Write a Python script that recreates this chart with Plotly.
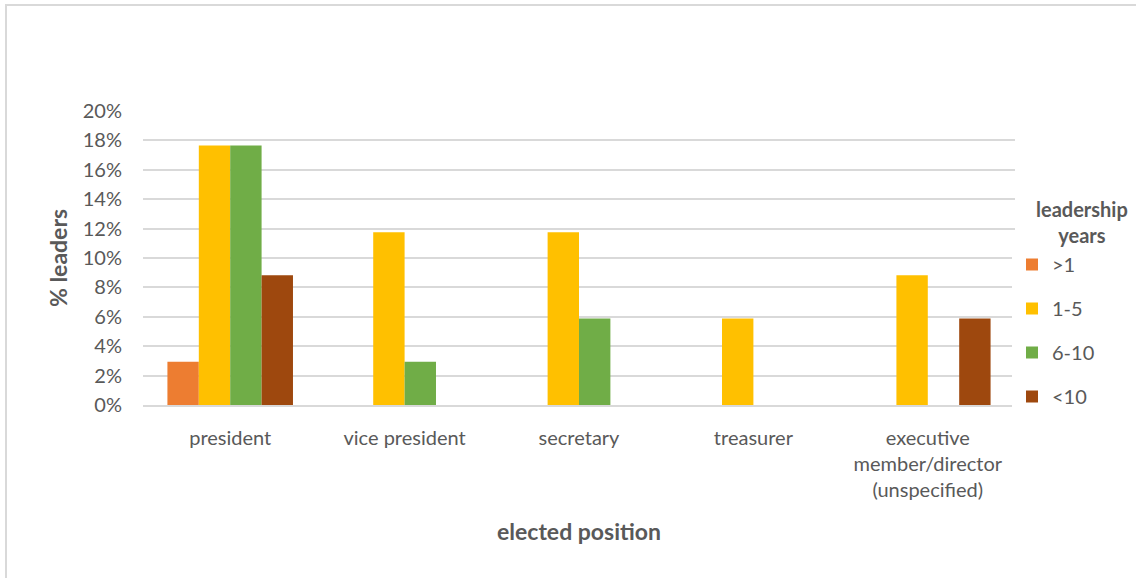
import plotly.graph_objects as go

categories = ["president", "vice president", "secretary", "treasurer",
              "executive<br>member/director<br>(unspecified)"]
series_names = [">1", "1-5", "6-10", "<10"]
v_gt1 = [0.0294, None, None, None, None]
v_1_5 = [0.1765, 0.1176, 0.1176, 0.0588, 0.0882]
v_6_10 = [0.1765, 0.0294, 0.0588, None, None]
v_lt10 = [0.0882, None, None, None, 0.0588]
colors = ["#ED7D31", "#FFC000", "#70AD47", "#9E480E"]
y_ticks = [0, 0.02, 0.04, 0.06, 0.08, 0.10, 0.12, 0.14, 0.16, 0.18, 0.20]

W, H = 1136, 578
L, R, T, B = 143, 121, 111, 173
pw, ph = W - L - R, H - T - B

FONT = "Lato"
GRAY = "#595959"

fig = go.Figure()
for i, (name, vals) in enumerate(zip(series_names, [v_gt1, v_1_5, v_6_10, v_lt10])):
    fig.add_trace(go.Bar(
        x=categories, y=vals, name=name, marker_color=colors[i],
        marker_line_width=0, legendgroup=f"g{i}",
    ))

def px_to_paper_x(px):
    return (px - L) / pw

def px_to_paper_y(py):
    return (H - B - py) / ph

fig.add_shape(type="rect", xref="paper", yref="paper",
              x0=px_to_paper_x(6), x1=px_to_paper_x(1145),
              y0=px_to_paper_y(590), y1=px_to_paper_y(5),
              line=dict(color="#D9D9D9", width=2), fillcolor="rgba(0,0,0,0)",
              layer="below")

fig.add_annotation(text="<b>leadership<br>years</b>", xref="paper", yref="paper",
                   x=px_to_paper_x(1082), y=px_to_paper_y(222),
                   xanchor="center", yanchor="middle", showarrow=False,
                   font=dict(size=20, color=GRAY, family=FONT), align="center")

fig.update_layout(
    width=W, height=H,
    margin=dict(l=L, r=R, t=T, b=B, autoexpand=False),
    paper_bgcolor="white", plot_bgcolor="white",
    barmode="group", bargap=0.28, bargroupgap=0,
    font=dict(family=FONT, color=GRAY, size=20),
    xaxis=dict(
        title=dict(text="<b>elected position</b>", font=dict(size=23, color=GRAY), standoff=24),
        showline=True, linecolor="#D9D9D9", linewidth=2,
        ticks="", tickfont=dict(size=20, color=GRAY), ticklabelstandoff=14,
    ),
    yaxis=dict(
        title=dict(text="<b>% leaders</b>", font=dict(size=23, color=GRAY), standoff=8),
        range=[0, 0.2], tickvals=y_ticks, tickformat=".0%",
        showgrid=True, gridcolor="#D9D9D9", gridwidth=1.5,
        zeroline=False, ticks="", tickfont=dict(size=20, color=GRAY),
        ticklabelstandoff=20,
    ),
    legend=dict(
        x=px_to_paper_x(1012), y=px_to_paper_y(245), xanchor="left", yanchor="top",
        tracegroupgap=15, font=dict(size=20, color=GRAY),
        itemwidth=30,
    ),
    showlegend=True,
)

fig.write_html("out.html")
